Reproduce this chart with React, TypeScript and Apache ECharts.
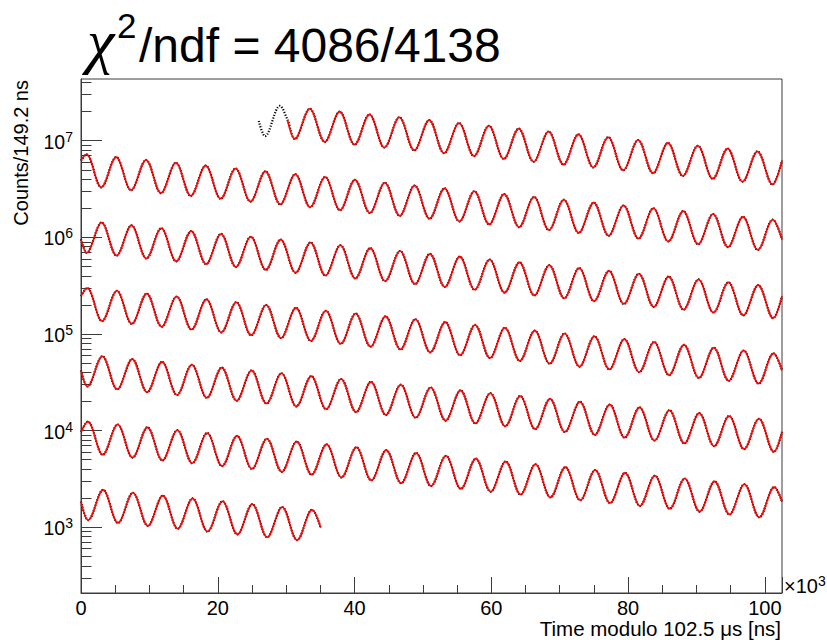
import React, { useEffect, useRef } from "react";
import * as echarts from "echarts";

const FONT = '"Liberation Sans", Arial, Helvetica, sans-serif';
const SERIF = '"Liberation Serif", "DejaVu Serif", serif';
const LINE = "#3c3c3c";

// ---- axes / texts ----
const xRange = [0, 102.5];
const xMajorStep = 20;
const yRange = [209, 4.35e7];
const yMinorTicks = [
  300, 400, 500, 600, 700, 800, 900,
  2e3, 3e3, 4e3, 5e3, 6e3, 7e3, 8e3, 9e3,
  2e4, 3e4, 4e4, 5e4, 6e4, 7e4, 8e4, 9e4,
  2e5, 3e5, 4e5, 5e5, 6e5, 7e5, 8e5, 9e5,
  2e6, 3e6, 4e6, 5e6, 6e6, 7e6, 8e6, 9e6,
  2e7, 3e7, 4e7,
];
const titleChi = "χ";
const titleSup = "2";
const titleRest = "/ndf = 4086/4138";
const xAxisTitle = "Time modulo 102.5 μs [ns]";
const yAxisTitle = "Counts/149.2 ns";
const xExponent = "3";

// ---- data: [time (x10^3 ns), counts] at the extrema of each wrapped row ----
const row1Pre: [number, number][] = [
  [26.0, 1.603e7], [26.91, 1.115e7], [29.09, 2.291e7], [30.2, 1.639e7],
];
const row1: [number, number][] = [
  [30.2, 1.639e7], [31.27, 1.042e7], [33.45, 2.141e7], [35.64, 9.737e6], [37.82, 2.001e7], [40.0, 9.099e6],
  [42.18, 1.869e7], [44.36, 8.503e6], [46.55, 1.747e7], [48.73, 7.946e6], [50.91, 1.632e7], [53.09, 7.425e6],
  [55.27, 1.526e7], [57.46, 6.939e6], [59.64, 1.426e7], [61.82, 6.484e6], [64.0, 1.332e7], [66.18, 6.059e6],
  [68.37, 1.245e7], [70.55, 5.662e6], [72.73, 1.163e7], [74.91, 5.291e6], [77.09, 1.087e7], [79.28, 4.944e6],
  [81.46, 1.016e7], [83.64, 4.62e6], [85.82, 9.493e6], [88.0, 4.318e6], [90.19, 8.871e6], [92.37, 4.035e6],
  [94.55, 8.289e6], [96.73, 3.77e6], [98.91, 7.746e6], [101.1, 3.523e6], [102.5, 6.233e6],
];
const row2: [number, number][] = [
  [0, 6.233e6],
  [0.78, 7.239e6], [2.96, 3.293e6], [5.14, 6.764e6], [7.32, 3.077e6], [9.51, 6.321e6], [11.69, 2.875e6],
  [13.87, 5.907e6], [16.05, 2.687e6], [18.23, 5.52e6], [20.42, 2.511e6], [22.6, 5.158e6], [24.78, 2.346e6],
  [26.96, 4.82e6], [29.14, 2.193e6], [31.33, 4.504e6], [33.51, 2.049e6], [35.69, 4.209e6], [37.87, 1.915e6],
  [40.05, 3.933e6], [42.24, 1.789e6], [44.42, 3.676e6], [46.6, 1.672e6], [48.78, 3.435e6], [50.96, 1.562e6],
  [53.15, 3.21e6], [55.33, 1.46e6], [57.51, 2.999e6], [59.69, 1.364e6], [61.87, 2.803e6], [64.06, 1.275e6],
  [66.24, 2.619e6], [68.42, 1.191e6], [70.6, 2.448e6], [72.78, 1.113e6], [74.97, 2.287e6], [77.15, 1.04e6],
  [79.33, 2.137e6], [81.51, 9.722e5], [83.69, 1.997e6], [85.88, 9.085e5], [88.06, 1.866e6], [90.24, 8.49e5],
  [92.42, 1.744e6], [94.6, 7.933e5], [96.79, 1.63e6], [98.97, 7.413e5], [101.15, 1.523e6],
  [102.5, 9.541e5],
];
const row3: [number, number][] = [
  [0, 9.541e5],
  [0.83, 6.928e5], [3.01, 1.423e6], [5.2, 6.474e5], [7.38, 1.33e6], [9.56, 6.05e5], [11.74, 1.243e6],
  [13.92, 5.653e5], [16.11, 1.161e6], [18.29, 5.283e5], [20.47, 1.085e6], [22.65, 4.937e5], [24.83, 1.014e6],
  [27.02, 4.613e5], [29.2, 9.478e5], [31.38, 4.311e5], [33.56, 8.857e5], [35.74, 4.028e5], [37.93, 8.276e5],
  [40.11, 3.764e5], [42.29, 7.734e5], [44.47, 3.518e5], [46.65, 7.227e5], [48.84, 3.287e5], [51.02, 6.754e5],
  [53.2, 3.072e5], [55.38, 6.311e5], [57.56, 2.871e5], [59.75, 5.898e5], [61.93, 2.683e5], [64.11, 5.511e5],
  [66.29, 2.507e5], [68.47, 5.15e5], [70.66, 2.343e5], [72.84, 4.813e5], [75.02, 2.189e5], [77.2, 4.497e5],
  [79.38, 2.046e5], [81.57, 4.203e5], [83.75, 1.912e5], [85.93, 3.927e5], [88.11, 1.786e5], [90.29, 3.67e5],
  [92.48, 1.669e5], [94.66, 3.429e5], [96.84, 1.56e5], [99.02, 3.205e5], [101.2, 1.458e5],
  [102.5, 2.467e5],
];
const row4: [number, number][] = [
  [0, 2.467e5],
  [0.89, 2.995e5], [3.07, 1.362e5], [5.25, 2.798e5], [7.43, 1.273e5], [9.61, 2.615e5], [11.8, 1.19e5],
  [13.98, 2.444e5], [16.16, 1.112e5], [18.34, 2.284e5], [20.52, 1.039e5], [22.71, 2.134e5], [24.89, 9.706e4],
  [27.07, 1.994e5], [29.25, 9.07e4], [31.43, 1.863e5], [33.62, 8.476e4], [35.8, 1.741e5], [37.98, 7.921e4],
  [40.16, 1.627e5], [42.34, 7.402e4], [44.53, 1.521e5], [46.71, 6.917e4], [48.89, 1.421e5], [51.07, 6.463e4],
  [53.25, 1.328e5], [55.44, 6.04e4], [57.62, 1.241e5], [59.8, 5.644e4], [61.98, 1.16e5], [64.16, 5.274e4],
  [66.35, 1.084e5], [68.53, 4.929e4], [70.71, 1.013e5], [72.89, 4.606e4], [75.07, 9.462e4], [77.26, 4.304e4],
  [79.44, 8.842e4], [81.62, 4.022e4], [83.8, 8.263e4], [85.98, 3.758e4], [88.17, 7.722e4], [90.35, 3.512e4],
  [92.53, 7.216e4], [94.71, 3.282e4], [96.89, 6.743e4], [99.08, 3.067e4], [101.26, 6.301e4],
  [102.5, 4.19e4],
];
const row5: [number, number][] = [
  [0, 4.19e4],
  [0.94, 2.866e4], [3.12, 5.888e4], [5.3, 2.678e4], [7.49, 5.502e4], [9.67, 2.503e4], [11.85, 5.142e4],
  [14.03, 2.339e4], [16.21, 4.805e4], [18.4, 2.186e4], [20.58, 4.49e4], [22.76, 2.042e4], [24.94, 4.196e4],
  [27.12, 1.909e4], [29.31, 3.921e4], [31.49, 1.783e4], [33.67, 3.664e4], [35.85, 1.667e4], [38.03, 3.424e4],
  [40.22, 1.557e4], [42.4, 3.2e4], [44.58, 1.455e4], [46.76, 2.99e4], [48.94, 1.36e4], [51.13, 2.794e4],
  [53.31, 1.271e4], [55.49, 2.611e4], [57.67, 1.188e4], [59.85, 2.44e4], [62.04, 1.11e4], [64.22, 2.28e4],
  [66.4, 1.037e4], [68.58, 2.131e4], [70.76, 9.691e3], [72.95, 1.991e4], [75.13, 9.056e3], [77.31, 1.861e4],
  [79.49, 8.463e3], [81.67, 1.739e4], [83.86, 7.908e3], [86.04, 1.625e4], [88.22, 7.39e3], [90.4, 1.518e4],
  [92.58, 6.906e3], [94.77, 1.419e4], [96.95, 6.453e3], [99.13, 1.326e4], [101.31, 6.03e3],
  [102.5, 9.713e3],
];
const row6: [number, number][] = [
  [0, 9.713e3],
  [0.99, 1.239e4], [3.18, 5.635e3], [5.36, 1.158e4], [7.54, 5.266e3], [9.72, 1.082e4], [11.9, 4.921e3],
  [14.09, 1.011e4], [16.27, 4.599e3], [18.45, 9.447e3], [20.63, 4.297e3], [22.81, 8.828e3], [25.0, 4.016e3],
  [27.18, 8.25e3], [29.36, 3.752e3], [31.54, 7.709e3], [33.72, 3.507e3], [35.91, 7.204e3], [38.09, 3.277e3],
  [40.27, 6.732e3], [42.45, 3.062e3], [44.63, 6.291e3], [46.82, 2.862e3], [49.0, 5.879e3], [51.18, 2.674e3],
  [53.36, 5.494e3], [55.54, 2.499e3], [57.73, 5.134e3], [59.91, 2.335e3], [62.09, 4.797e3], [64.27, 2.182e3],
  [66.45, 4.483e3], [68.64, 2.039e3], [70.82, 4.189e3], [73.0, 1.905e3], [75.18, 3.915e3], [77.36, 1.781e3],
  [79.55, 3.658e3], [81.73, 1.664e3], [83.91, 3.418e3], [86.09, 1.555e3], [88.27, 3.195e3], [90.46, 1.453e3],
  [92.64, 2.985e3], [94.82, 1.358e3], [97.0, 2.79e3], [99.18, 1.269e3], [101.37, 2.607e3],
  [102.5, 1.842e3],
];
const row7: [number, number][] = [
  [0, 1.842e3],
  [1.05, 1.186e3], [3.23, 2.436e3], [5.41, 1.108e3], [7.59, 2.276e3], [9.78, 1.035e3], [11.96, 2.127e3],
  [14.14, 967.6], [16.32, 1.988e3], [18.5, 904.2], [20.69, 1.858e3], [22.87, 844.9], [25.05, 1.736e3],
  [27.23, 789.6], [29.41, 1.622e3], [31.6, 737.8], [33.78, 1.516e3],
  [35.05, 990.8],
];

const fitRows = [row1, row2, row3, row4, row5, row6, row7];
const dataRows = [[...row1Pre.slice(0, -1), ...row1], row2, row3, row4, row5, row6, row7];

const SMOOTH = 0.36;

function buildOption() {
  const series: any[] = [];
  dataRows.forEach((r) => {
    series.push({
      type: "line",
      data: r,
      smooth: SMOOTH,
      showSymbol: false,
      silent: true,
      z: 2,
      lineStyle: { color: "#000", width: 2.2, type: [1.2, 1.6] },
    });
  });
  fitRows.forEach((r) => {
    series.push({
      type: "line",
      data: r,
      smooth: SMOOTH,
      showSymbol: false,
      silent: true,
      z: 3,
      lineStyle: { color: "#ff0000", width: 1.6 },
    });
  });

  const lineStyle = { color: LINE, width: 1 };

  return {
    animation: false,
    backgroundColor: "#ffffff",
    grid: {
      left: 81,
      right: 45,
      top: 79,
      bottom: 47,
      show: true,
      borderColor: LINE,
      borderWidth: 1,
      backgroundColor: "transparent",
    },
    xAxis: {
      type: "value",
      min: xRange[0],
      max: xRange[1],
      interval: xMajorStep,
      axisLine: { show: true, onZero: false, lineStyle },
      axisTick: { show: true, inside: true, length: 16, lineStyle },
      minorTick: { show: true, splitNumber: 4, length: 8, lineStyle },
      axisLabel: {
        color: "#000",
        fontSize: 20,
        fontFamily: FONT,
        margin: 5,
        lineHeight: 20,
        showMaxLabel: false,
      },
      splitLine: { show: false },
      minorSplitLine: { show: false },
    },
    yAxis: [
      {
        type: "log",
        logBase: 10,
        min: yRange[0],
        max: yRange[1],
        position: "left",
        axisLine: { show: true, onZero: false, lineStyle },
        axisTick: { show: true, inside: true, length: 21, lineStyle },
        axisLabel: {
          margin: 8,
          fontSize: 20,
          fontFamily: FONT,
          color: "#000",
          showMinLabel: false,
          showMaxLabel: false,
          formatter: (v: number) => `{b|10}{s|${Math.round(Math.log10(v))}}`,
          rich: {
            b: { fontSize: 19.5, fontFamily: FONT, color: "#000", lineHeight: 22, verticalAlign: "bottom" },
            s: { fontSize: 14, fontFamily: FONT, color: "#000", lineHeight: 14, verticalAlign: "top", padding: [0, 0, 13, 0] },
          },
        },
        splitLine: { show: false },
      },
      {
        type: "value",
        min: Math.log10(yRange[0]),
        max: Math.log10(yRange[1]),
        position: "left",
        axisLine: { show: false },
        axisLabel: { show: false },
        splitLine: { show: false },
        axisTick: {
          show: true,
          inside: true,
          length: 10.5,
          lineStyle,
          customValues: yMinorTicks.map((v) => Math.log10(v)),
        },
      },
    ],
    graphic: [
      {
        type: "text",
        x: 87,
        y: 41,
        style: {
          text: titleChi,
          fontSize: 62,
          fontStyle: "italic",
          fontFamily: SERIF,
          fill: "#000",
          align: "left",
          verticalAlign: "middle",
        },
      },
      {
        type: "text",
        x: 117,
        y: 25,
        style: { text: titleSup, fontSize: 35, fontFamily: FONT, fill: "#000", align: "left", verticalAlign: "middle" },
      },
      {
        type: "text",
        x: 139,
        y: 45,
        style: { text: titleRest, fontSize: 48, fontFamily: FONT, fill: "#000", align: "left", verticalAlign: "middle" },
      },
      {
        type: "text",
        x: 21,
        y: 80,
        rotation: Math.PI / 2,
        style: { text: yAxisTitle, fontSize: 20, fontFamily: FONT, fill: "#000", align: "right", verticalAlign: "middle" },
      },
      {
        type: "text",
        x: 781,
        y: 628.5,
        style: { text: xAxisTitle, fontSize: 20.5, lineHeight: 20, fontFamily: FONT, fill: "#000", align: "right", verticalAlign: "middle" },
      },
      {
        type: "text",
        x: 784,
        y: 585,
        style: {
          text: `{a|×10}{b|${xExponent}}`,
          align: "left",
          verticalAlign: "middle",
          rich: {
            a: { fontSize: 20, fontFamily: FONT, fill: "#000", lineHeight: 22, verticalAlign: "bottom" },
            b: { fontSize: 14, fontFamily: FONT, fill: "#000", lineHeight: 14, verticalAlign: "top", padding: [0, 0, 14, 0] },
          },
        },
      },
    ],
    series,
  };
}

export default function App() {
  const ref = useRef<HTMLDivElement>(null);
  useEffect(() => {
    if (!ref.current) return;
    const chart = echarts.init(ref.current, undefined, { renderer: "svg" });
    chart.setOption(buildOption() as any);
    return () => chart.dispose();
  }, []);
  return (
    <div
      ref={ref}
      style={{ position: "absolute", left: 0, top: 0, width: 827, height: 640, background: "#fff" }}
    />
  );
}
